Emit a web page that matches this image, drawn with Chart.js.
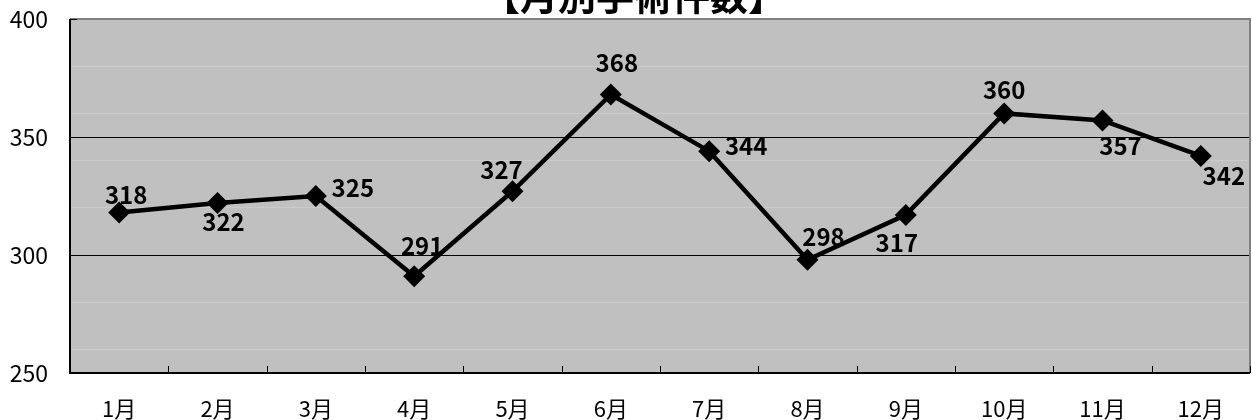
<!DOCTYPE html>
<html>
<head>
<meta charset="utf-8">
<script src="https://cdn.jsdelivr.net/npm/chart.js@4.4.1/dist/chart.umd.min.js"></script>
<style>
  body { margin: 0; background: #fff; }
</style>
</head>
<body>
<canvas id="surgeryChart" width="1252" height="420"></canvas>
<script>
const months = ['1月', '2月', '3月', '4月', '5月', '6月', '7月', '8月', '9月', '10月', '11月', '12月'];
const surgeries = [318, 322, 325, 291, 327, 368, 344, 298, 317, 360, 357, 342];
const yTicks = [250, 300, 350, 400];
const chartTitle = '【月別手術件数】';

// where each value label sits relative to its point
const labelOffsets = [
    [7, -18], [6, 19], [37, -8], [8, -30], [-11, -21], [6, -32],
    [37, -5], [16, -23], [-9, 28], [0, -24], [18, 25], [23, 20]
];

const plotDecor = {
    id: 'plotDecor',
    beforeDraw(chart) {
        const { ctx, chartArea: a } = chart;
        ctx.save();
        ctx.fillStyle = '#c0c0c0';
        ctx.fillRect(a.left, a.top, a.right - a.left, a.bottom - a.top);
        ctx.restore();
    },
    afterDatasetsDraw(chart) {
        const { ctx, chartArea: a } = chart;
        const x = chart.scales.x;
        const y = chart.scales.y;
        ctx.save();
        // plot area frame
        ctx.strokeStyle = '#808080';
        ctx.lineWidth = 2;
        ctx.beginPath();
        ctx.moveTo(a.left, a.top);
        ctx.lineTo(a.right, a.top);
        ctx.lineTo(a.right, a.bottom);
        ctx.stroke();
        // axes
        ctx.strokeStyle = '#000';
        ctx.beginPath();
        ctx.moveTo(a.left, a.top);
        ctx.lineTo(a.left, a.bottom);
        ctx.lineTo(a.right, a.bottom);
        ctx.stroke();
        // inner tick marks
        ctx.lineWidth = 1;
        ctx.beginPath();
        const half = (x.getPixelForValue(1) - x.getPixelForValue(0)) / 2;
        for (let i = 0; i < months.length; i++) {
            const px = Math.round(x.getPixelForValue(i) + half) + 0.5;
            ctx.moveTo(px, a.bottom);
            ctx.lineTo(px, a.bottom - 7);
        }
        yTicks.forEach(v => {
            const py = Math.round(y.getPixelForValue(v)) + 0.5;
            ctx.moveTo(a.left, py);
            ctx.lineTo(a.left + 7, py);
        });
        ctx.stroke();

        // value labels
        const meta = chart.getDatasetMeta(0);
        ctx.fillStyle = '#000';
        ctx.font = 'bold 24px "Noto Sans CJK JP"';
        ctx.textAlign = 'center';
        ctx.textBaseline = 'middle';
        meta.data.forEach((pt, i) => {
            const [dx, dy] = labelOffsets[i];
            ctx.fillText(String(surgeries[i]), pt.x + dx, pt.y + dy);
        });

        // title, clipped at the top edge
        ctx.font = 'bold 38px "Noto Sans CJK JP"';
        ctx.textBaseline = 'alphabetic';
        ctx.fillText(chartTitle, 634, 10);
        ctx.restore();
    }
};

const ctx1 = document.getElementById('surgeryChart').getContext('2d');
const surgeryChart = new Chart(ctx1, {
    type: 'line',
    data: {
        labels: months,
        datasets: [{
            label: chartTitle,
            data: surgeries,
            borderColor: '#000',
            borderWidth: 4.5,
            tension: 0,
            fill: false,
            clip: false,
            pointStyle: 'rectRot',
            pointRadius: 11,
            pointHoverRadius: 11,
            pointBackgroundColor: '#000',
            pointBorderColor: '#000',
            pointBorderWidth: 0
        }]
    },
    options: {
        responsive: false,
        animation: false,
        layout: {
            autoPadding: false,
            padding: { top: 19, right: 2, left: 0, bottom: 0 }
        },
        plugins: {
            legend: { display: false },
            title: { display: false },
            tooltip: { enabled: false }
        },
        scales: {
            x: {
                offset: true,
                grid: { display: false },
                border: { display: false },
                ticks: {
                    color: '#000',
                    font: { family: '"Noto Sans CJK JP"', size: 22 },
                    padding: 14,
                    maxRotation: 0
                },
                afterFit(scale) { scale.height = 47; scale.paddingLeft = 0; scale.paddingRight = 0; }
            },
            y: {
                min: 250,
                max: 400,
                z: 1,
                grid: {
                    color: '#000',
                    lineWidth: 1,
                    drawTicks: false
                },
                border: { display: false },
                ticks: {
                    stepSize: 50,
                    color: '#000',
                    font: { family: '"Noto Sans CJK JP"', size: 23 },
                    padding: 22
                },
                afterFit(scale) { scale.width = 70; scale.paddingTop = 0; scale.paddingBottom = 0; }
            },
            yMinor: {
                position: 'left',
                min: 250,
                max: 400,
                grid: {
                    color: c => (c.tick && c.tick.value % 50 === 0) ? 'rgba(0,0,0,0)' : '#cbcbcb',
                    lineWidth: 1,
                    drawTicks: false
                },
                border: { display: false },
                ticks: { display: false, stepSize: 20 },
                afterFit(scale) { scale.width = 0; scale.paddingTop = 0; scale.paddingBottom = 0; }
            }
        }
    },
    plugins: [plotDecor]
});
</script>
</body>
</html>
